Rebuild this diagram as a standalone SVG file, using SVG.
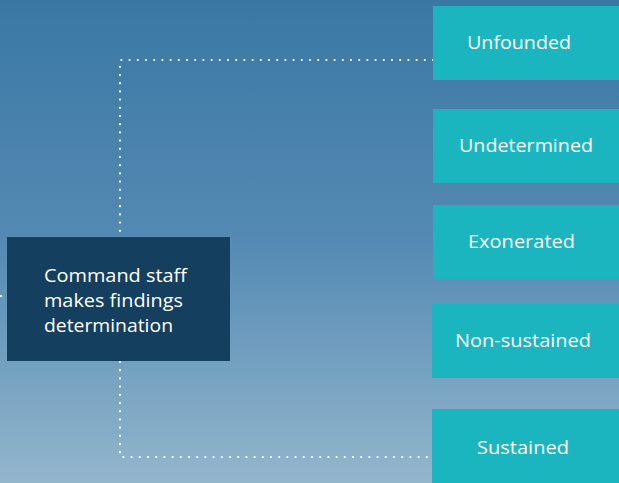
<svg xmlns="http://www.w3.org/2000/svg" width="619" height="483" viewBox="0 0 619 483">
<defs>
<linearGradient id="bg" x1="0" y1="0" x2="0" y2="1">
<stop offset="0" stop-color="#3a78a4"/>
<stop offset="0.5" stop-color="#548ab3"/>
<stop offset="1" stop-color="#93b6cd"/>
</linearGradient>
</defs>
<style>
.out{fill:#1ab5bf}
.cmd{fill:#153f5e}
.t{font-family:"Open Sans","Liberation Sans",sans-serif;font-size:18.5px;fill:#ffffff}
.dot{fill:none;stroke:#ffffff;stroke-width:2.2;stroke-linecap:round;stroke-dasharray:0 8.2}
</style>
<rect x="0" y="0" width="619" height="483" fill="url(#bg)"/>
<g id="connectors">
<path class="dot" d="M433 60 H120 V236"/>
<path class="dot" d="M120 362 V457 H432"/>
<path class="dot" d="M1 296 H3"/>
</g>
<g id="command">
<rect class="cmd" x="7" y="237" width="223" height="124"/>
<text class="t" x="44" y="282" textLength="143" lengthAdjust="spacingAndGlyphs">Command staff</text>
<text class="t" x="44" y="306.5" textLength="139" lengthAdjust="spacingAndGlyphs">makes findings</text>
<text class="t" x="44" y="331.5" textLength="129" lengthAdjust="spacingAndGlyphs">determination</text>
</g>
<g id="unfounded">
<rect class="out" x="433" y="6" width="186" height="74"/>
<text class="t" x="467" y="49.3" textLength="104" lengthAdjust="spacingAndGlyphs">Unfounded</text>
</g>
<g id="undetermined">
<rect class="out" x="433" y="109" width="186" height="74"/>
<text class="t" x="459" y="151.7" textLength="134" lengthAdjust="spacingAndGlyphs">Undetermined</text>
</g>
<g id="exonerated">
<rect class="out" x="433" y="205" width="186" height="74"/>
<text class="t" x="468" y="248.3" textLength="107" lengthAdjust="spacingAndGlyphs">Exonerated</text>
</g>
<g id="non-sustained">
<rect class="out" x="432" y="304" width="187" height="74"/>
<text class="t" x="455" y="347.3" textLength="136" lengthAdjust="spacingAndGlyphs">Non-sustained</text>
</g>
<g id="sustained">
<rect class="out" x="432" y="409" width="187" height="74"/>
<text class="t" x="477" y="454.3" textLength="92" lengthAdjust="spacingAndGlyphs">Sustained</text>
</g>
</svg>
